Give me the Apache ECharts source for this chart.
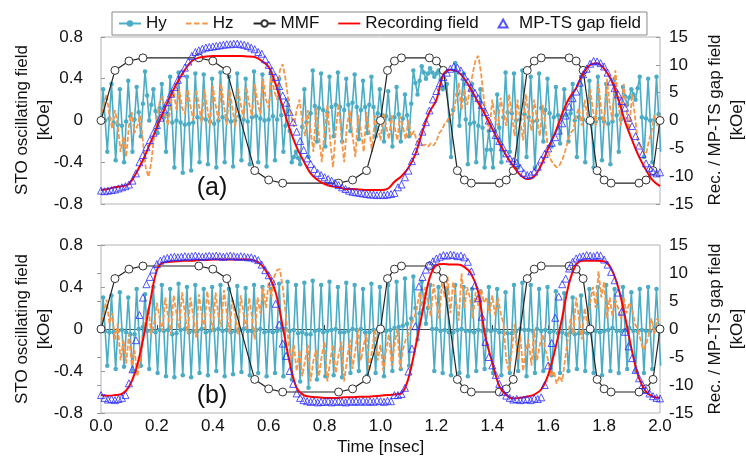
<!DOCTYPE html>
<html><head><meta charset="utf-8">
<script src="https://cdn.jsdelivr.net/npm/echarts@6/dist/echarts.min.js"></script>
<style>html,body{margin:0;padding:0;background:#fff}#c{width:746px;height:469px}</style>
</head><body><div id="c"></div>
<script>
// ---------- data ----------
const xTicks = [0,0.2,0.4,0.6,0.8,1.0,1.2,1.4,1.6,1.8,2.0];
const STEP_HY = 0.0075, STEP_HZ = 0.01, STEP_REC = 0.025, STEP_GAP = 0.0125;

// panel (a) STO Hy [kOe], sampled every 0.0075 ns
const hyA = [
 0,.3,0,-.3, .02,.35,-.02,-.38, -.04,.3,-.05,-.4, -.01,.38,.04,-.3, .01,.32,.08,-.15,
 .16,.47,.24,0, .15,.3,.09,-.12, .12,.35,.03,-.3, .06,.42,-.02,-.45, 0,.46,-.02,-.5,
 -.04,.42,-.03,-.48, -.02,.45,.03,-.4, .02,.44,.01,-.42, -.01,.4,-.03,-.45, 0,.46,.03,-.4,
 .01,.42,-.01,-.44, 0,.45,.04,-.38, .01,.4,-.01,-.42, .03,.47,.04,-.4, .02,.44,0,-.44,
 .01,.46,.04,-.38, .01,.4,.05,-.3, -.05,.2,-.1,-.4, -.35,-.3,-.36,-.42, -.06,.3,-.02,-.35,
 .07,.48,.14,-.2, .12,.45,.1,-.25, .08,.42,.13,-.15, .15,.46,.13,-.2, .1,.4,.15,-.1,
 .17,.44,.13,-.18, .1,.38,.13,-.12, .15,.42,.13,-.15, .07,.3,.05,-.2, .04,.28,.01,-.25,
 .03,.32,.06,-.2, .02,.25,.05,-.15, .16,.48,.36,.25, .38,.52,.46,.4, .45,.5,.46,.42,
 .45,.48,.39,.3, .32,.35,0,-.35, .1,.55,.25,-.05, .2,.45,.01,-.42, -.03,.35,-.02,-.4,
 -.05,.3,-.07,-.45, -.28,-.1,-.28,-.45, -.1,.25,-.07,-.4, .03,.46,.08,-.3, .07,.45,0,-.45,
 .01,.48,.06,-.35, .03,.42,-.01,-.45, 0,.45,.12,-.2, .1,.4,.07,-.25, .03,.32,.05,-.22,
 .04,.3,.05,-.2, .07,.35,0,-.35, .03,.42,.01,-.4, -.01,.38,-.03,-.45, -.01,.42,.02,-.38,
 -.01,.35,-.03,-.42, -.01,.4,.05,-.3, .01,.32,.23,.15, .22,.3,.25,.2, .31,.42,.03,-.35,
 .02,.4,0,-.4, .01,.42,.06,-.3
];
// panel (a) STO Hz [kOe], sampled every 0.01 ns
const hzA = [
 0,.15,.25,.05,-.08,.1,-.05,-.3,-.15,-.35,
 -.05,.08,-.12,-.05,.05,-.2,-.45,-.54,-.4,-.15,
 0,.18,.23,.05,-.05,.18,.28,.1,.3,.12,
 .06,.3,.14,0,.3,.15,-.02,.3,.12,-.05,
 .33,.15,0,.35,.14,-.04,.3,.12,-.06,.32,
 .15,.02,.32,.16,.04,.35,.18,.06,.4,.2,
 .12,.45,.28,.2,.48,.54,.4,.2,.05,-.06,
 .1,.2,0,-.15,.1,-.1,-.3,.12,-.15,-.4,
 -.1,.15,-.2,-.45,-.1,.16,-.15,-.4,-.05,.1,
 -.15,-.35,.05,-.1,-.3,.08,-.1,-.3,.05,-.05,
 -.19,.07,-.05,-.18,.05,-.05,-.19,.04,-.06,-.18,
 0,-.15,-.1,-.2,-.22,-.24,-.23,-.25,-.22,-.24,
 -.2,-.12,-.09,-.03,0,.05,.07,.2,.36,.1,
 .3,.15,.3,.45,.58,.62,.45,.2,0,-.09,
 .2,.02,-.05,.22,.05,-.05,.25,.05,-.15,.2,
 0,-.19,.25,.05,-.1,.2,0,-.15,.15,-.05,
 -.3,-.38,-.42,-.45,-.43,-.38,-.3,-.2,-.12,-.09,
 .05,.12,-.05,.2,.05,.3,.1,-.05,.35,.1,
 -.05,.4,.15,0,.48,.2,-.05,.35,.1,-.09,
 .25,.05,-.19,-.25,-.3,-.32,-.2,-.1,.05,-.05,
 .07
];
// panel (a) recording field [kOe], every 0.025 ns
const recA = [
 -12.5,-12.3,-12,-11.8,-11.4,-9.5,-7.1,-4.2,
 -1.2,1.8,4.6,7,9.1,10.7,11.3,11.5,
 11.6,11.6,11.6,11.6,11.6,11.5,11.4,10.7,
 9.6,6.5,2.5,-1.5,-4.8,-7.3,-9.5,-10.7,
 -11.4,-11.8,-12,-12.3,-12.3,-12.4,-12.5,-12.5,
 -12.5,-12.3,-11,-10,-8.5,-6,-2,1.5,
 3.7,8.3,9.1,8.8,7.5,5.5,3.2,1,
 -1.5,-4,-6.3,-8.2,-9.8,-10.5,-10,-8,
 -5,-2.2,1.2,4,5.8,8.5,10,10.3,
 9.3,7.3,4,-0.2,-3.5,-6.5,-8.9,-10.8,
 -11.8
];
// panel (a) MP-TS gap field [kOe], every 0.0125 ns
const gapA = [
 -12.6,-12.7,-12.6,-12.5,-12.4,-12.2,-12,-11.8,
 -11.5,-10.8,-9.5,-7.5,-6.2,-4.8,-3.5,-2.2,
 -0.8,0.5,2,3.3,4.8,6,7.3,8.5,
 9.5,10.6,11.6,12.3,12.6,12.9,13.1,13.2,
 13.3,13.4,13.5,13.6,13.7,13.7,13.8,13.8,
 13.7,13.6,13.4,13.1,12.8,12.3,12,11,
 10,8.9,7.8,6.2,4.5,3.2,1.5,-0.3,
 -2,-3.7,-5.3,-6.8,-7.8,-8.7,-9.4,-9.8,
 -10.2,-10.5,-10.8,-11.2,-11.6,-12,-12.3,-12.6,
 -12.8,-12.9,-13,-13.1,-13.2,-13.3,-13.3,-13.4,
 -13.3,-13.4,-13.3,-13.2,-13,-12,-11.5,-10.2,
 -9,-7.3,-5.5,-3.8,-2,-0.3,1.8,3.8,
 5.3,6.7,7.8,8.6,9.3,9.7,9.5,9,
 7.9,7,5.9,5,4,2.8,1.5,0,
 -1.3,-2.6,-3.7,-4.8,-5.9,-6.8,-7.3,-7.6,
 -8.5,-9.4,-9.8,-9.7,-9.2,-8.3,-7,-6,
 -5,-4,-3,-1.8,-0.5,0.9,2.5,4,
 5.2,6.8,8.3,9.3,10.2,10.7,10.6,10.3,
 9.7,8.6,7,5.8,4.7,3.5,2.3,0.5,
 -1,-2.8,-4.5,-6,-7.7,-8.5,-9.2,-9.5,
 -9.3
];

// panel (b)
const hyB = [
 0,.3,-.02,-.35, -.03,.32,-.03,-.38, -.02,.35,-.01,-.36, -.03,.3,-.05,-.4, -.05,.38,0,-.35,
 .02,.33,-.02,-.38, -.02,.4,-.03,-.42, -.01,.42,-.02,-.45, -.01,.38,-.05,-.46, -.04,.43,-.01,-.44,
 0,.4,-.03,-.46, -.02,.42,-.02,-.42, 0,.38,-.03,-.44, -.02,.4,-.01,-.4, 0,.42,-.02,-.45,
 -.01,.38,-.03,-.43, -.02,.41,-.01,-.41, 0,.39,-.02,-.44, -.02,.42,-.01,-.42, 0,.4,-.03,-.45,
 -.02,.38,-.03,-.42, -.02,.43,-.01,-.45, 0,.45,-.02,-.48, -.01,.42,-.04,-.5, -.03,.44,-.05,-.56,
 -.05,.46,-.02,-.48, -.01,.42,-.03,-.45, -.02,.45,-.01,-.44, 0,.4,-.03,-.46, -.03,.44,-.02,-.42,
 0,.42,-.01,-.4, 0,.38,-.03,-.44, -.03,.43,-.01,-.42, 0,.4,-.02,-.45, -.02,.42,-.01,-.4,
 .01,.45,.02,-.38, .03,.48,.05,-.35, .1,.5,.2,-.1, .15,.45,.25,.05, .2,.42,0,-.4,
 0,.4,-.02,-.42, -.01,.38,-.03,-.44, -.03,.42,-.01,-.42, 0,.4,-.02,-.45, -.02,.38,-.03,-.4,
 -.01,.36,-.02,-.38, -.01,.4,-.02,-.42, -.01,.38,-.03,-.44, -.03,.35,-.04,-.42, -.04,.42,-.02,-.4,
 0,.44,-.01,-.45, -.01,.42,-.02,-.42, 0,.38,-.02,-.4, -.01,.4,-.03,-.44, -.02,.36,-.04,-.42,
 -.03,.34,-.05,-.4, -.03,.3,-.05,-.38, -.04,.32,-.03,-.4, -.04,.38,-.02,-.42, -.02,.4,-.03,-.44,
 -.02,.42,-.01,-.4, .01,.38,-.02,-.42, -.02,.4,-.01,-.38, .01,.35,-.02,-.4, -.02,.38,-.01,-.42,
 -.02,.4,-.02,-.38, .01,.38,-.01,-.35
];
const hzB = [
 0,.15,.28,.05,.15,-.1,.05,-.3,-.1,-.33,
 -.05,-.35,-.2,-.45,-.3,-.1,.1,.2,-.05,.05,
 .25,.1,-.02,.3,.12,-.05,.32,.15,0,.35,
 .15,-.05,.3,.12,-.08,.33,.15,0,.36,.15,
 -.02,.35,.12,.02,.37,.15,-.04,.3,.12,-.05,
 .32,.15,0,.3,.12,-.1,.3,.15,.4,.2,
 .45,.3,.5,.56,.57,.4,.17,-.1,-.3,-.15,
 -.4,-.2,-.45,-.3,-.15,-.5,-.3,-.2,-.45,-.25,
 -.12,-.5,-.3,-.15,-.42,-.25,-.12,-.5,-.3,-.1,
 -.38,-.2,0,-.3,-.15,-.05,-.4,-.2,0,-.3,
 -.15,-.4,-.2,-.05,-.35,-.15,0,-.38,-.2,-.1,
 -.05,.05,.1,.2,.35,.15,.4,.25,.12,.43,
 .25,.1,.45,.3,.5,.15,.45,.28,.08,.53,
 .2,.4,.3,.1,.35,.22,.38,.25,.3,.15,
 .32,.13,.3,.15,.05,-.3,-.4,-.2,.05,-.3,
 -.05,-.4,-.2,-.1,-.35,0,-.3,-.15,-.05,-.2,
 -.3,-.45,-.4,-.52,-.45,-.5,-.3,-.1,.1,-.05,
 .3,.1,-.1,.2,.05,.25,.4,.2,.55,.3,
 .45,.1,.3,.12,.28,.2,.1,.3,.15,.25,
 .2,.05,0,-.1,-.2,-.15,-.05,.1,-.05,.1,
 .05
];
const recB = [
 -11.8,-11.9,-11.8,-11.6,-10.3,-7.3,-2,4.6,
 10.5,11.9,12,12.1,12.2,12.2,12.3,12.3,
 12.4,12.4,12.4,12.4,12.4,12.4,12.2,11.4,
 9.5,6.5,0.5,-6,-10.5,-11.8,-12.1,-12.2,
 -12.3,-12.3,-12.3,-12.2,-12.2,-12.1,-12.1,-12,
 -11.9,-11.8,-11.7,-11.5,-8.8,-3.2,3,9,
 11.4,11.6,11.5,11.5,11.1,9.8,6.5,-1.3,
 -6,-10.2,-11.8,-12.4,-12.3,-12.1,-11.7,-10.8,
 -8.2,-3.6,2,8.2,11.5,12.2,12.2,12.2,
 12.1,10.8,7.5,2.2,-4,-8.8,-11.2,-12.1,
 -12.3
];
const gapB = [
 -11.8,-12.3,-12.6,-12.5,-12.7,-12.5,-12.3,-11.8,
 -9.7,-7.2,-2,2.5,5.6,8,9.3,10.6,
 11.6,12.2,12.5,12.7,12.8,12.9,12.8,12.9,
 13,12.9,13,13.1,13,12.9,13,13.1,
 13,13.1,13,12.9,13,13.1,13,12.9,
 13,12.9,12.8,12.8,12.6,12.3,11.5,10.5,
 9.6,8.5,4.5,0.8,-2.6,-4.8,-7.5,-9.8,
 -11.5,-12.3,-12.7,-12.9,-13,-12.9,-13.1,-13,
 -13,-12.9,-13.1,-13,-12.9,-13,-13.1,-12.9,
 -13,-12.9,-13,-12.8,-13,-12.9,-13,-12.8,
 -12.9,-13,-12.8,-12.9,-11.8,-11.8,-11.6,-10.5,
 -7.6,-3.5,0.5,7.6,9.3,10.6,11.5,12.1,
 12.6,12.9,13.2,13.1,13.3,13.2,13,13.1,
 12.8,12,10.3,7.8,5.5,2.2,-2.3,-5,
 -6.5,-8.2,-9.8,-11.2,-11.9,-12.3,-12.6,-12.5,
 -12.7,-12.6,-12.5,-12.7,-12.4,-12.5,-12.2,-10,
 -6.5,-2.5,2,5.8,8,9,10.8,12,
 12.6,12.9,13,13.2,13.1,13,13.2,13.1,
 12.4,11.5,10.2,8.7,6.5,3.1,-0.5,-3.1,
 -5.2,-7.3,-8.8,-10,-10.9,-11.5,-12,-12.3,
 -12.4
];

// MMF (same drive pattern in both panels), left axis units
const mmfT = [0,0.05,0.1,0.15,0.35,0.4,0.45,0.55,0.6,0.65,0.85,0.9,0.95,1.0,1.025,1.05,1.075,1.175,1.2,1.225,1.275,1.3,1.325,1.425,1.45,1.475,1.525,1.55,1.575,1.675,1.7,1.725,1.75,1.775,1.8,1.825,1.925,1.95,1.975,2.0];
const mmfV = [0,0.48,0.57,0.6,0.6,0.57,0.48,-0.48,-0.57,-0.6,-0.6,-0.57,-0.48,0,0.48,0.57,0.6,0.6,0.57,0.48,-0.48,-0.57,-0.6,-0.6,-0.57,-0.48,0.48,0.57,0.6,0.6,0.57,0.48,0,-0.48,-0.57,-0.6,-0.6,-0.57,-0.48,0];

const leftTicks = [-0.8,-0.4,0,0.4,0.8];
const rightTicks = [-15,-10,-5,0,5,10,15];
const seriesNames = ['Hy','Hz','MMF','Recording field','MP-TS gap field'];

// ---------- chart ----------
const FONT = '"Liberation Sans", Arial, sans-serif';
const TXT = '#111';
function pairs(arr, step){ return arr.map((v,i)=>[+(i*step).toFixed(5), v]); }
const chart = echarts.init(document.getElementById('c'), null, {renderer:'canvas'});

function gridBox(top,h){ return {left:101, right:86, top:top, height:h, show:true, borderColor:'#b4b4b4', borderWidth:1, backgroundColor:'transparent'}; }
function leftY(gi){ return {gridIndex:gi, type:'value', position:'left', min:leftTicks[0], max:leftTicks[leftTicks.length-1], interval:0.4,
  axisLine:{show:false}, axisTick:{show:true, inside:true, length:4, lineStyle:{color:'#999'}},
  axisLabel:{fontSize:17, color:TXT, fontFamily:FONT, margin:18, formatter:v=>Math.abs(v)<1e-9?'0':v.toFixed(1)}, splitLine:{show:false}}; }
function rightY(gi){ return {gridIndex:gi, type:'value', position:'right', min:rightTicks[0], max:rightTicks[rightTicks.length-1], interval:5,
  axisLine:{show:false}, axisTick:{show:true, inside:true, length:4, lineStyle:{color:'#999'}},
  axisLabel:{fontSize:17, color:TXT, fontFamily:FONT, margin:9, align:'left'}, splitLine:{show:false}}; }

function panel(p, hy, hz, rec, gap){
  const xi = p === 0 ? 0 : 1, yl = p*2, yr = p*2+1;
  return [
    {name:seriesNames[0], type:'line', xAxisIndex:xi, yAxisIndex:yl, data:pairs(hy,STEP_HY), symbol:'circle', symbolSize:4.5, showSymbol:true,
     lineStyle:{color:'#4bacc6', width:1.6}, itemStyle:{color:'#4bacc6'}, z:2},
    {name:seriesNames[1], type:'line', xAxisIndex:xi, yAxisIndex:yl, data:pairs(hz,STEP_HZ), symbol:'none',
     lineStyle:{color:'#f79646', width:1.8, type:[5,2]}, itemStyle:{color:'#f79646'}, z:3},
    {name:seriesNames[2], type:'line', xAxisIndex:xi, yAxisIndex:yl, data:mmfT.map((t,i)=>[t,mmfV[i]]), symbol:'circle', symbolSize:8, showSymbol:true,
     lineStyle:{color:'#222', width:1.2}, itemStyle:{color:'#fff', borderColor:'#333', borderWidth:1}, z:4},
    {name:seriesNames[3], type:'line', xAxisIndex:xi, yAxisIndex:yr, data:pairs(rec,STEP_REC), symbol:'none', smooth:0.35,
     lineStyle:{color:'#ff0000', width:2}, itemStyle:{color:'#ff0000'}, z:5},
    {name:seriesNames[4], type:'scatter', xAxisIndex:xi, yAxisIndex:yr, data:pairs(gap,STEP_GAP), symbol:'triangle', symbolSize:7,
     itemStyle:{color:'rgba(255,255,255,0)', borderColor:'#2b2bff', borderWidth:1}, z:6}
  ];
}

const option = {
  animation:false,
  backgroundColor:'#fff',
  textStyle:{fontFamily:FONT},
  grid:[gridBox(37,167), gridBox(245,168)],
  xAxis:[
    {gridIndex:0, type:'value', min:xTicks[0], max:xTicks[xTicks.length-1], interval:0.2, axisLine:{show:false}, axisTick:{show:false}, axisLabel:{show:false}, splitLine:{show:false}},
    {gridIndex:1, type:'value', position:'bottom', min:xTicks[0], max:xTicks[xTicks.length-1], interval:0.2, axisLine:{show:false, onZero:false}, axisTick:{show:false},
     axisLabel:{fontSize:17, color:TXT, fontFamily:FONT, margin:5, formatter:v=>v.toFixed(1)}, splitLine:{show:false},
     name:'Time [nsec]', nameLocation:'middle', nameGap:26, nameTextStyle:{fontSize:17, color:TXT, fontFamily:FONT}},
    {gridIndex:1, type:'value', position:'bottom', min:xTicks[0], max:xTicks[xTicks.length-1], interval:0.2,
     axisLine:{show:true, onZero:true, lineStyle:{color:'#444', width:1}}, axisTick:{show:true, inside:true, length:4, lineStyle:{color:'#444'}},
     axisLabel:{show:false}, splitLine:{show:false}}
  ],
  yAxis:[leftY(0), rightY(0), leftY(1), rightY(1)],
  legend:{
    data:[
      {name:seriesNames[0]},
      {name:seriesNames[1], icon:'path://M0 0h6v2H0z M9 0h6v2H9z M18 0h6v2h-6z'},
      {name:seriesNames[2]},
      {name:seriesNames[3], icon:'path://M0 0h24v2H0z'},
      {name:seriesNames[4], icon:'path://M5 0L10 9L0 9Z'}
    ],
    top:12, left:112, itemGap:19, itemWidth:22, itemHeight:8, padding:[3,6],
    borderColor:'#888', borderWidth:1, backgroundColor:'#fff',
    textStyle:{fontSize:17, color:TXT, fontFamily:FONT}
  },
  graphic:[
    {type:'text', x:212, y:188, style:{text:'(a)', fontSize:25, fontFamily:FONT, fill:TXT, align:'center', verticalAlign:'middle'}},
    {type:'text', x:212, y:396, style:{text:'(b)', fontSize:25, fontFamily:FONT, fill:TXT, align:'center', verticalAlign:'middle'}},
    {type:'text', x:33, y:120, rotation:Math.PI/2, style:{text:'STO oscillating field\n[kOe]', fontSize:17, lineHeight:22, fontFamily:FONT, fill:TXT, align:'center', verticalAlign:'middle'}},
    {type:'text', x:33, y:329, rotation:Math.PI/2, style:{text:'STO oscillating field\n[kOe]', fontSize:17, lineHeight:22, fontFamily:FONT, fill:TXT, align:'center', verticalAlign:'middle'}},
    {type:'text', x:726, y:120, rotation:Math.PI/2, style:{text:'Rec. / MP-TS gap field\n[kOe]', fontSize:17, lineHeight:22, fontFamily:FONT, fill:TXT, align:'center', verticalAlign:'middle'}},
    {type:'text', x:726, y:329, rotation:Math.PI/2, style:{text:'Rec. / MP-TS gap field\n[kOe]', fontSize:17, lineHeight:22, fontFamily:FONT, fill:TXT, align:'center', verticalAlign:'middle'}}
  ],
  series:[].concat(panel(0, hyA, hzA, recA, gapA), panel(1, hyB, hzB, recB, gapB))
};
chart.setOption(option);
</script>
</body></html>
